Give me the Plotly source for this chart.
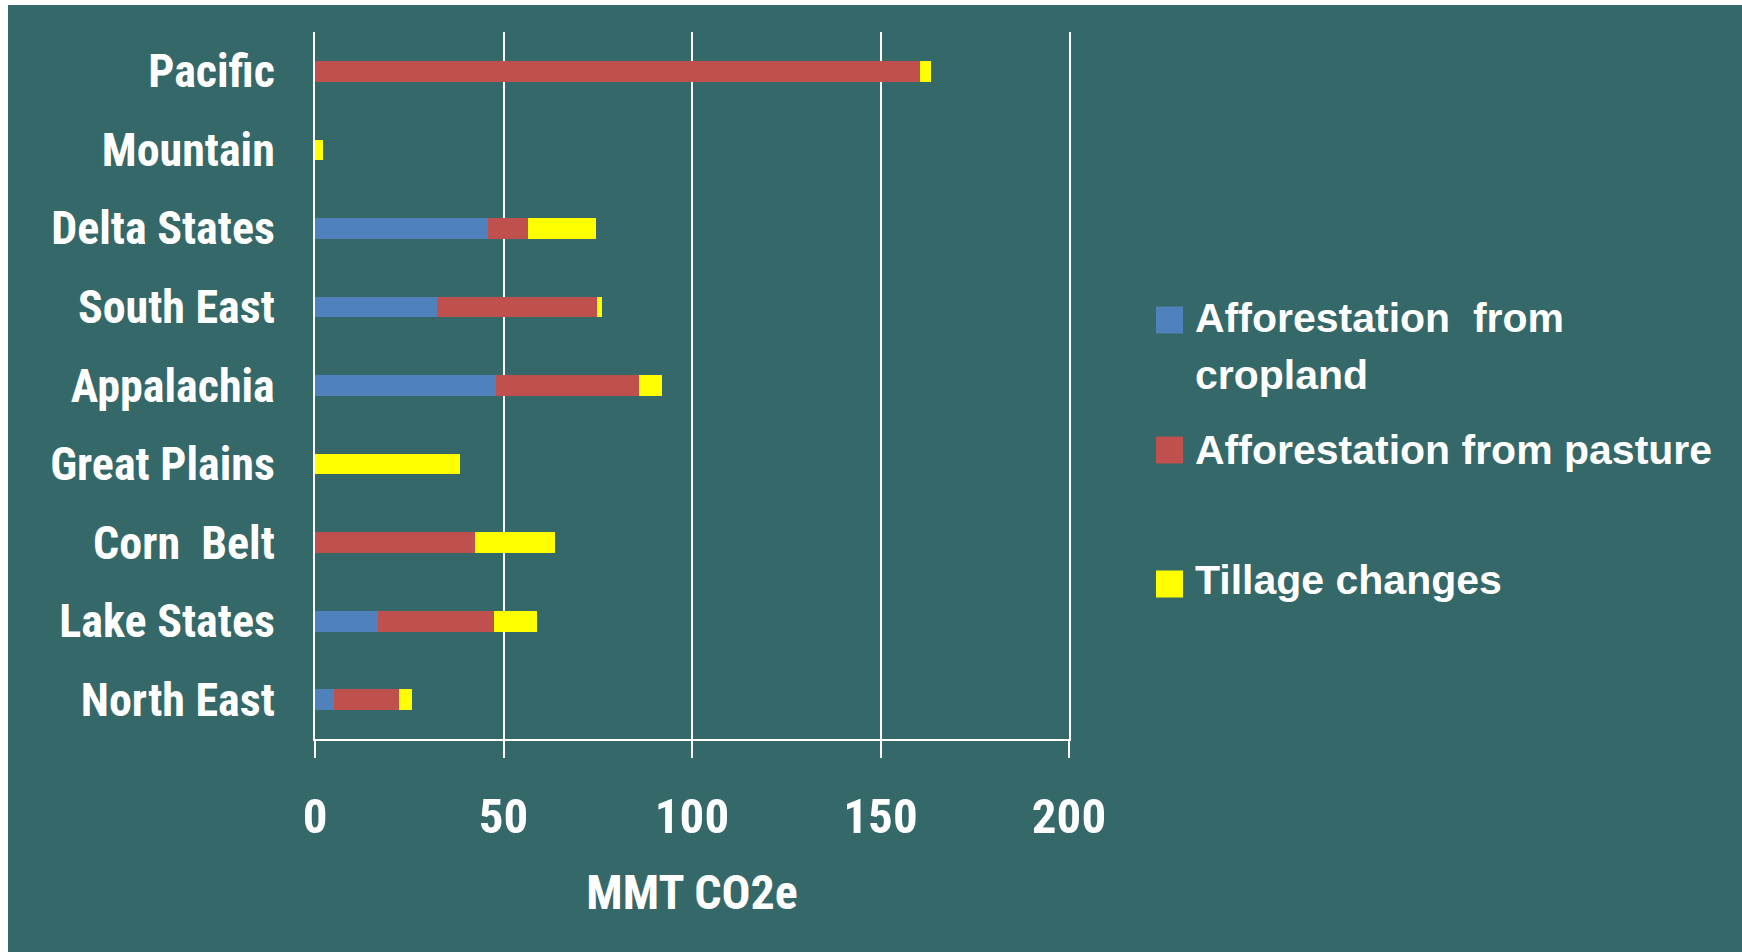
import plotly.graph_objects as go

# ---- data ----
regions = ["North East", "Lake States", "Corn  Belt", "Great Plains", "Appalachia",
           "South East", "Delta States", "Mountain", "Pacific"]
cropland = [5.0, 16.7, 0.0, 0.0, 48.0, 32.4, 46.0, 0.0, 0.0]
pasture = [17.3, 30.7, 42.4, 0.0, 38.0, 42.4, 10.5, 0.0, 160.5]
tillage = [3.5, 11.4, 21.2, 38.4, 6.0, 1.4, 18.0, 2.0, 3.0]
series_names = ["Afforestation  from<br>cropland", "Afforestation from pasture", "Tillage changes"]
series_colors = ["#4F81BD", "#C0504D", "#FFFF00"]
x_ticks = [0, 50, 100, 150, 200]
x_title = "MMT CO2e"

# ---- layout geometry (pixels) ----
W_FIG, H_FIG = 1742, 952
L, R, T, B = 315, 1069, 32, 739
PW, PH = R - L, B - T
BG = "#356868"
NARROW = "Liberation Sans Narrow, Arial Narrow, Roboto Condensed, Liberation Sans, sans-serif"
WIDE = "Liberation Sans, Arial, sans-serif"


def px_x(p):
    return (p - L) / PW


def px_y(p):
    return (B - p) / PH


fig = go.Figure()
for name, vals, col in zip(series_names, [cropland, pasture, tillage], series_colors):
    fig.add_trace(go.Bar(y=regions, x=vals, orientation="h", name=name.replace("<br>", " "),
                         marker=dict(color=col, line=dict(width=0)), showlegend=False))

shapes = [
    # white strips on left and top edges
    dict(type="rect", xref="paper", yref="paper", x0=px_x(-5), x1=px_x(8), y0=px_y(960), y1=px_y(-5),
         fillcolor="white", line=dict(width=0), layer="above"),
    dict(type="rect", xref="paper", yref="paper", x0=px_x(-5), x1=px_x(1750), y0=px_y(5), y1=px_y(-5),
         fillcolor="white", line=dict(width=0), layer="above"),
]
annotations = []

# manual legend (large square symbols)
sq_rows = [320, 450, 584]
text_rows = [319, 450, 580]
line_step = 56.5
sq = 27
for name, col, ys, yt in zip(series_names, series_colors, sq_rows, text_rows):
    shapes.append(dict(type="rect", xref="paper", yref="paper",
                       x0=px_x(1156), x1=px_x(1156 + sq), y0=px_y(ys + sq / 2), y1=px_y(ys - sq / 2),
                       fillcolor=col, line=dict(width=0)))
    for i, line in enumerate(name.split("<br>")):
        annotations.append(dict(xref="paper", yref="paper", x=px_x(1193),
                                y=px_y(yt + i * line_step - 25.5),
                                xanchor="left", yanchor="top", align="left", showarrow=False,
                                text=line,
                                font=dict(family=WIDE, size=41, color="white", weight="bold")))

fig.update_layout(
    width=W_FIG, height=H_FIG,
    margin=dict(l=L, r=W_FIG - R, t=T, b=H_FIG - B, pad=0),
    paper_bgcolor=BG, plot_bgcolor=BG,
    barmode="stack", bargap=0.737,
    showlegend=False,
    shapes=shapes, annotations=annotations,
    xaxis=dict(range=[0, 200], tickvals=x_ticks, showgrid=True, gridcolor="white", gridwidth=2,
               zeroline=False, showline=True, linecolor="white", linewidth=2,
               ticks="outside", ticklen=17, tickwidth=2, tickcolor="white",
               ticklabelstandoff=16,
               tickfont=dict(family=NARROW, size=49, color="white", weight="bold"),
               title=dict(text=x_title, standoff=32,
                          font=dict(family=NARROW, size=48, color="white", weight="bold")),
               automargin=False),
    yaxis=dict(showgrid=False, zeroline=False, showline=True, mirror=True,
               linecolor="white", linewidth=2, ticks="",
               ticklabelstandoff=29,
               tickfont=dict(family=NARROW, size=46, color="white", weight="bold"),
               automargin=False),
)

fig.write_html("out.html")
